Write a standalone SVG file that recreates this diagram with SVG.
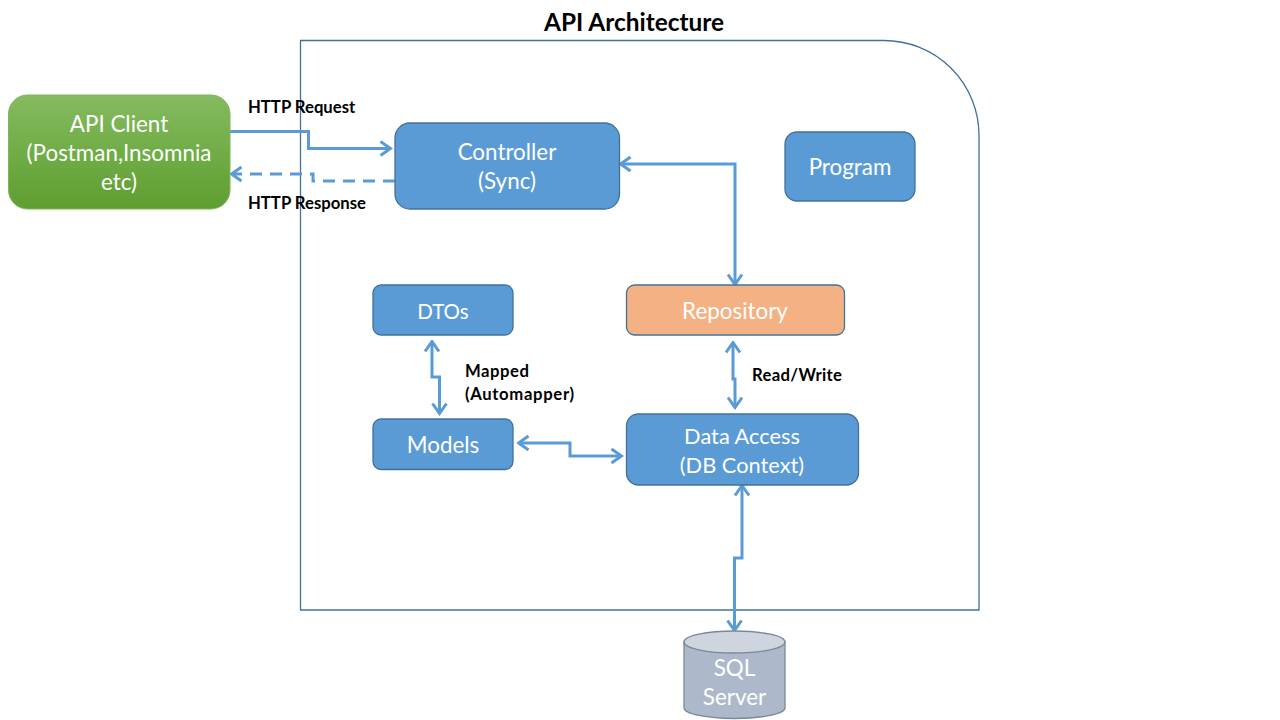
<svg xmlns="http://www.w3.org/2000/svg" width="1280" height="720" viewBox="0 0 1280 720">
<style>
text{font-family:"Lato","Noto Sans","Liberation Sans",sans-serif;text-anchor:middle}
.n{fill:#5b9bd5;stroke:#41719c;stroke-width:1.3}
.t{fill:#fff;font-size:22.4px}
.l{fill:#000;font-size:16.7px;font-weight:700;text-anchor:start}
.c{fill:none;stroke:#5b9bd5;stroke-width:3}
</style>
<defs>
<linearGradient id="g" x1="0" y1="0" x2="0" y2="1"><stop offset="0" stop-color="#85bb5f"/><stop offset="0.5" stop-color="#70ad47"/><stop offset="1" stop-color="#5f9e31"/></linearGradient>
<marker id="a" markerUnits="userSpaceOnUse" markerWidth="14" markerHeight="18" refX="11.500" refY="9" orient="auto-start-reverse" viewBox="0 0 14 18"><path d="M2 2L12 9L2 16" fill="none" stroke="#5b9bd5" stroke-width="3"/></marker>
</defs>
<rect width="1280" height="720" fill="#fff"/>
<text x="634" y="31" style="font-size:24.4px;font-weight:700" fill="#000">API Architecture</text>
<g id="boundary"><path d="M300.500 40.500H884A95 95 0 0 1 979 135.500V610H300.500Z" fill="none" stroke="#41719c" stroke-width="1.300"/></g>
<g id="connectors">
<path class="c" marker-end="url(#a)" d="M229 131.500H308.500V148.500H390"/>
<path class="c" marker-end="url(#a)" stroke-dasharray="12 8" d="M395 181H313V174H232"/>
<path class="c" marker-start="url(#a)" marker-end="url(#a)" d="M621 164H735V284"/>
<path class="c" marker-start="url(#a)" marker-end="url(#a)" d="M733 343V379H735V407"/>
<path class="c" marker-start="url(#a)" marker-end="url(#a)" d="M432 342V377H439.500V413"/>
<path class="c" marker-start="url(#a)" marker-end="url(#a)" d="M519 443H570V456H621"/>
<path class="c" marker-start="url(#a)" marker-end="url(#a)" d="M742 486V558H734.500V630"/>
</g>
<g id="api-client"><rect x="8.500" y="95" width="221.500" height="114" rx="19" fill="url(#g)" stroke="#7fb55c" stroke-width="1"/><text class="t" x="119" y="132">API Client</text><text class="t" x="119" y="161">(Postman,Insomnia</text><text class="t" x="119" y="190">etc)</text></g>
<g id="controller"><rect class="n" x="395" y="123" width="224.500" height="86" rx="15"/><text class="t" x="507" y="160">Controller</text><text class="t" x="507" y="189">(Sync)</text></g>
<g id="program"><rect class="n" x="785" y="132" width="130" height="69" rx="12"/><text class="t" x="850" y="175">Program</text></g>
<g id="dtos"><rect class="n" x="373" y="285" width="140" height="50" rx="8"/><text class="t" x="443" y="319" style="font-size:20.500px">DTOs</text></g>
<g id="repository"><rect x="626.500" y="285" width="218" height="50" rx="8" fill="#f4b183" stroke="#41719c" stroke-width="1.300"/><text class="t" x="735" y="319">Repository</text></g>
<g id="models"><rect class="n" x="373" y="419" width="140" height="50.500" rx="8"/><text class="t" x="443" y="453">Models</text></g>
<g id="data-access"><rect class="n" x="626.500" y="414" width="232" height="71" rx="12"/><text class="t" x="742" y="444" style="font-size:21.800px">Data Access</text><text class="t" x="742" y="473" style="font-size:21.800px">(DB Context)</text></g>
<g id="sql-server"><path d="M684 642V708A50.500 10.500 0 0 0 785 708V642Z" fill="#adb9ca" stroke="#7c8797" stroke-width="1.300"/><ellipse cx="734.500" cy="642" rx="50.500" ry="11" fill="#ced5df" stroke="#7c8797" stroke-width="1.300"/><text class="t" x="734.500" y="676">SQL</text><text class="t" x="734.500" y="705">Server</text></g>
<g id="labels">
<text class="l" x="248" y="113">HTTP Request</text>
<text class="l" x="248" y="209">HTTP Response</text>
<text class="l" x="465" y="377" textLength="64">Mapped</text>
<text class="l" x="465" y="400" textLength="109">(Automapper)</text>
<text class="l" x="752" y="381" textLength="90">Read/Write</text>
</g>
</svg>
